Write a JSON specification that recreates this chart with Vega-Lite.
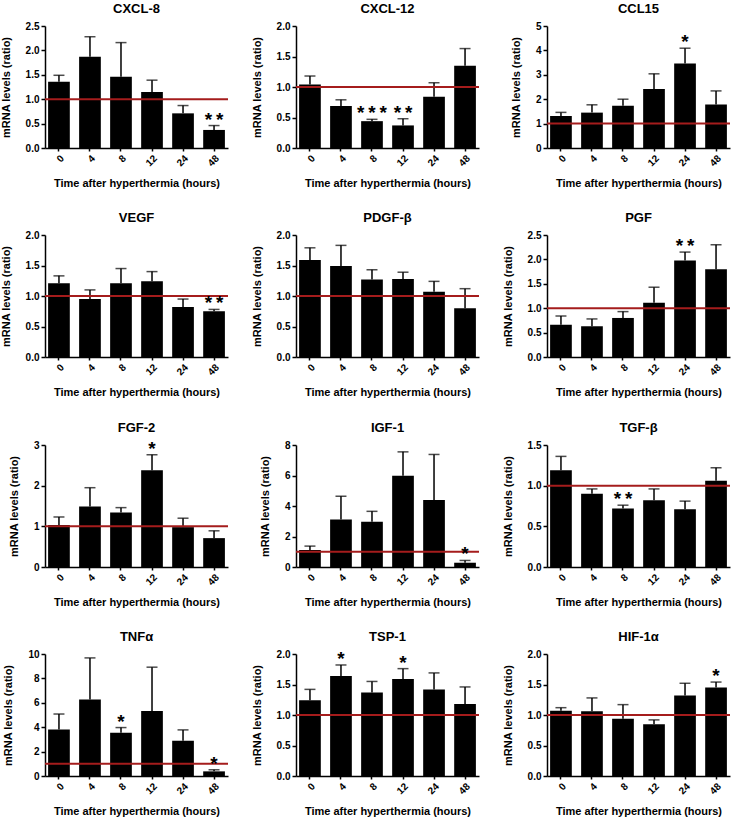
{
  "$schema": "https://vega.github.io/schema/vega-lite/v6.json",
  "padding": {"left": 0, "top": 3, "right": 0, "bottom": 0},
  "background": "white",
  "data": {"values": [
    {"gene": "CXCL-8", "hour": 0, "value": 1.36, "top": 1.49, "star": ""},
    {"gene": "CXCL-8", "hour": 4, "value": 1.87, "top": 2.28, "star": ""},
    {"gene": "CXCL-8", "hour": 8, "value": 1.46, "top": 2.16, "star": ""},
    {"gene": "CXCL-8", "hour": 12, "value": 1.15, "top": 1.39, "star": ""},
    {"gene": "CXCL-8", "hour": 24, "value": 0.71, "top": 0.87, "star": ""},
    {"gene": "CXCL-8", "hour": 48, "value": 0.37, "top": 0.46, "star": "*\u2009*"},
    {"gene": "CXCL-12", "hour": 0, "value": 1.04, "top": 1.18, "star": ""},
    {"gene": "CXCL-12", "hour": 4, "value": 0.69, "top": 0.79, "star": ""},
    {"gene": "CXCL-12", "hour": 8, "value": 0.44, "top": 0.47, "star": "*\u2009*\u2009*"},
    {"gene": "CXCL-12", "hour": 12, "value": 0.37, "top": 0.48, "star": "*\u2009*"},
    {"gene": "CXCL-12", "hour": 24, "value": 0.84, "top": 1.07, "star": ""},
    {"gene": "CXCL-12", "hour": 48, "value": 1.35, "top": 1.63, "star": ""},
    {"gene": "CCL15", "hour": 0, "value": 1.31, "top": 1.46, "star": ""},
    {"gene": "CCL15", "hour": 4, "value": 1.45, "top": 1.77, "star": ""},
    {"gene": "CCL15", "hour": 8, "value": 1.73, "top": 2.0, "star": ""},
    {"gene": "CCL15", "hour": 12, "value": 2.42, "top": 3.04, "star": ""},
    {"gene": "CCL15", "hour": 24, "value": 3.46, "top": 4.09, "star": "*"},
    {"gene": "CCL15", "hour": 48, "value": 1.78, "top": 2.34, "star": ""},
    {"gene": "VEGF", "hour": 0, "value": 1.21, "top": 1.33, "star": ""},
    {"gene": "VEGF", "hour": 4, "value": 0.95, "top": 1.1, "star": ""},
    {"gene": "VEGF", "hour": 8, "value": 1.21, "top": 1.45, "star": ""},
    {"gene": "VEGF", "hour": 12, "value": 1.24, "top": 1.4, "star": ""},
    {"gene": "VEGF", "hour": 24, "value": 0.82, "top": 0.95, "star": ""},
    {"gene": "VEGF", "hour": 48, "value": 0.75, "top": 0.78, "star": "*\u2009*"},
    {"gene": "PDGF-β", "hour": 0, "value": 1.59, "top": 1.79, "star": ""},
    {"gene": "PDGF-β", "hour": 4, "value": 1.49, "top": 1.83, "star": ""},
    {"gene": "PDGF-β", "hour": 8, "value": 1.27, "top": 1.43, "star": ""},
    {"gene": "PDGF-β", "hour": 12, "value": 1.28, "top": 1.39, "star": ""},
    {"gene": "PDGF-β", "hour": 24, "value": 1.07, "top": 1.24, "star": ""},
    {"gene": "PDGF-β", "hour": 48, "value": 0.8, "top": 1.12, "star": ""},
    {"gene": "PGF", "hour": 0, "value": 0.66, "top": 0.84, "star": ""},
    {"gene": "PGF", "hour": 4, "value": 0.63, "top": 0.78, "star": ""},
    {"gene": "PGF", "hour": 8, "value": 0.8, "top": 0.93, "star": ""},
    {"gene": "PGF", "hour": 12, "value": 1.11, "top": 1.43, "star": ""},
    {"gene": "PGF", "hour": 24, "value": 1.98, "top": 2.15, "star": "*\u2009*"},
    {"gene": "PGF", "hour": 48, "value": 1.8, "top": 2.3, "star": ""},
    {"gene": "FGF-2", "hour": 0, "value": 1.03, "top": 1.23, "star": ""},
    {"gene": "FGF-2", "hour": 4, "value": 1.49, "top": 1.95, "star": ""},
    {"gene": "FGF-2", "hour": 8, "value": 1.34, "top": 1.46, "star": ""},
    {"gene": "FGF-2", "hour": 12, "value": 2.38, "top": 2.76, "star": "*"},
    {"gene": "FGF-2", "hour": 24, "value": 0.98, "top": 1.2, "star": ""},
    {"gene": "FGF-2", "hour": 48, "value": 0.71, "top": 0.89, "star": ""},
    {"gene": "IGF-1", "hour": 0, "value": 1.12, "top": 1.37, "star": ""},
    {"gene": "IGF-1", "hour": 4, "value": 3.11, "top": 4.64, "star": ""},
    {"gene": "IGF-1", "hour": 8, "value": 2.96, "top": 3.65, "star": ""},
    {"gene": "IGF-1", "hour": 12, "value": 5.99, "top": 7.55, "star": ""},
    {"gene": "IGF-1", "hour": 24, "value": 4.4, "top": 7.38, "star": ""},
    {"gene": "IGF-1", "hour": 48, "value": 0.28, "top": 0.43, "star": "*"},
    {"gene": "TGF-β", "hour": 0, "value": 1.19, "top": 1.36, "star": ""},
    {"gene": "TGF-β", "hour": 4, "value": 0.9, "top": 0.96, "star": ""},
    {"gene": "TGF-β", "hour": 8, "value": 0.72, "top": 0.76, "star": "*\u2009*"},
    {"gene": "TGF-β", "hour": 12, "value": 0.82, "top": 0.96, "star": ""},
    {"gene": "TGF-β", "hour": 24, "value": 0.71, "top": 0.81, "star": ""},
    {"gene": "TGF-β", "hour": 48, "value": 1.06, "top": 1.22, "star": ""},
    {"gene": "TNFα", "hour": 0, "value": 3.81, "top": 5.08, "star": ""},
    {"gene": "TNFα", "hour": 4, "value": 6.27, "top": 9.68, "star": ""},
    {"gene": "TNFα", "hour": 8, "value": 3.54, "top": 3.97, "star": "*"},
    {"gene": "TNFα", "hour": 12, "value": 5.32, "top": 8.92, "star": ""},
    {"gene": "TNFα", "hour": 24, "value": 2.89, "top": 3.78, "star": ""},
    {"gene": "TNFα", "hour": 48, "value": 0.38, "top": 0.51, "star": "*"},
    {"gene": "TSP-1", "hour": 0, "value": 1.24, "top": 1.42, "star": ""},
    {"gene": "TSP-1", "hour": 4, "value": 1.64, "top": 1.82, "star": "*"},
    {"gene": "TSP-1", "hour": 8, "value": 1.37, "top": 1.55, "star": ""},
    {"gene": "TSP-1", "hour": 12, "value": 1.59, "top": 1.76, "star": "*"},
    {"gene": "TSP-1", "hour": 24, "value": 1.42, "top": 1.69, "star": ""},
    {"gene": "TSP-1", "hour": 48, "value": 1.18, "top": 1.46, "star": ""},
    {"gene": "HIF-1α", "hour": 0, "value": 1.07, "top": 1.12, "star": ""},
    {"gene": "HIF-1α", "hour": 4, "value": 1.06, "top": 1.28, "star": ""},
    {"gene": "HIF-1α", "hour": 8, "value": 0.94, "top": 1.17, "star": ""},
    {"gene": "HIF-1α", "hour": 12, "value": 0.85, "top": 0.92, "star": ""},
    {"gene": "HIF-1α", "hour": 24, "value": 1.32, "top": 1.52, "star": ""},
    {"gene": "HIF-1α", "hour": 48, "value": 1.45, "top": 1.54, "star": "*"}
  ]},
  "columns": 3,
  "spacing": {"row": 23, "column": 22},
  "concat": [
    {"title": "CXCL-8", "width": 183, "height": 122, "transform": [{"filter": "datum.gene == 'CXCL-8'"}],
     "layer": [
      {"mark": {"type": "rule", "color": "black", "strokeWidth": 1.5}, "encoding": {"x": {"field": "hour", "type": "ordinal"}, "y": {"field": "value", "type": "quantitative", "scale": {"domain": [0, 2.5], "nice": false}, "title": "mRNA levels (ratio)"}, "y2": {"field": "top"}}},
      {"mark": {"type": "tick", "color": "black", "thickness": 1.5, "size": 11}, "encoding": {"x": {"field": "hour", "type": "ordinal"}, "y": {"field": "top", "type": "quantitative"}}},
      {"mark": {"type": "bar", "color": "black"}, "encoding": {"x": {"field": "hour", "type": "ordinal", "title": "Time after hyperthermia (hours)", "scale": {"paddingInner": 0.3, "paddingOuter": 0.1}}, "y": {"field": "value", "type": "quantitative"}}},
      {"transform": [{"filter": "datum.hour == 0"}], "mark": {"type": "rule", "color": "#a51c1c", "strokeWidth": 2}, "encoding": {"y": {"datum": 1}}},
      {"transform": [{"filter": "datum.star != ''"}], "mark": {"type": "text", "fontSize": 19, "fontWeight": "bold", "baseline": "alphabetic", "font": "Liberation Sans"}, "encoding": {"x": {"field": "hour", "type": "ordinal"}, "y": {"field": "top", "type": "quantitative"}, "text": {"field": "star"}}}
     ]},
    {"title": "CXCL-12", "width": 183, "height": 122, "transform": [{"filter": "datum.gene == 'CXCL-12'"}],
     "layer": [
      {"mark": {"type": "rule", "color": "black", "strokeWidth": 1.5}, "encoding": {"x": {"field": "hour", "type": "ordinal"}, "y": {"field": "value", "type": "quantitative", "scale": {"domain": [0, 2], "nice": false}, "title": "mRNA levels (ratio)"}, "y2": {"field": "top"}}},
      {"mark": {"type": "tick", "color": "black", "thickness": 1.5, "size": 11}, "encoding": {"x": {"field": "hour", "type": "ordinal"}, "y": {"field": "top", "type": "quantitative"}}},
      {"mark": {"type": "bar", "color": "black"}, "encoding": {"x": {"field": "hour", "type": "ordinal", "title": "Time after hyperthermia (hours)", "scale": {"paddingInner": 0.3, "paddingOuter": 0.1}}, "y": {"field": "value", "type": "quantitative"}}},
      {"transform": [{"filter": "datum.hour == 0"}], "mark": {"type": "rule", "color": "#a51c1c", "strokeWidth": 2}, "encoding": {"y": {"datum": 1}}},
      {"transform": [{"filter": "datum.star != ''"}], "mark": {"type": "text", "fontSize": 19, "fontWeight": "bold", "baseline": "alphabetic", "font": "Liberation Sans"}, "encoding": {"x": {"field": "hour", "type": "ordinal"}, "y": {"field": "top", "type": "quantitative"}, "text": {"field": "star"}}}
     ]},
    {"title": "CCL15", "width": 183, "height": 122, "transform": [{"filter": "datum.gene == 'CCL15'"}],
     "layer": [
      {"mark": {"type": "rule", "color": "black", "strokeWidth": 1.5}, "encoding": {"x": {"field": "hour", "type": "ordinal"}, "y": {"field": "value", "type": "quantitative", "scale": {"domain": [0, 5], "nice": false}, "title": "mRNA levels (ratio)"}, "y2": {"field": "top"}}},
      {"mark": {"type": "tick", "color": "black", "thickness": 1.5, "size": 11}, "encoding": {"x": {"field": "hour", "type": "ordinal"}, "y": {"field": "top", "type": "quantitative"}}},
      {"mark": {"type": "bar", "color": "black"}, "encoding": {"x": {"field": "hour", "type": "ordinal", "title": "Time after hyperthermia (hours)", "scale": {"paddingInner": 0.3, "paddingOuter": 0.1}}, "y": {"field": "value", "type": "quantitative"}}},
      {"transform": [{"filter": "datum.hour == 0"}], "mark": {"type": "rule", "color": "#a51c1c", "strokeWidth": 2}, "encoding": {"y": {"datum": 1}}},
      {"transform": [{"filter": "datum.star != ''"}], "mark": {"type": "text", "fontSize": 19, "fontWeight": "bold", "baseline": "alphabetic", "font": "Liberation Sans"}, "encoding": {"x": {"field": "hour", "type": "ordinal"}, "y": {"field": "top", "type": "quantitative"}, "text": {"field": "star"}}}
     ]},
    {"title": "VEGF", "width": 183, "height": 122, "transform": [{"filter": "datum.gene == 'VEGF'"}],
     "layer": [
      {"mark": {"type": "rule", "color": "black", "strokeWidth": 1.5}, "encoding": {"x": {"field": "hour", "type": "ordinal"}, "y": {"field": "value", "type": "quantitative", "scale": {"domain": [0, 2], "nice": false}, "title": "mRNA levels (ratio)"}, "y2": {"field": "top"}}},
      {"mark": {"type": "tick", "color": "black", "thickness": 1.5, "size": 11}, "encoding": {"x": {"field": "hour", "type": "ordinal"}, "y": {"field": "top", "type": "quantitative"}}},
      {"mark": {"type": "bar", "color": "black"}, "encoding": {"x": {"field": "hour", "type": "ordinal", "title": "Time after hyperthermia (hours)", "scale": {"paddingInner": 0.3, "paddingOuter": 0.1}}, "y": {"field": "value", "type": "quantitative"}}},
      {"transform": [{"filter": "datum.hour == 0"}], "mark": {"type": "rule", "color": "#a51c1c", "strokeWidth": 2}, "encoding": {"y": {"datum": 1}}},
      {"transform": [{"filter": "datum.star != ''"}], "mark": {"type": "text", "fontSize": 19, "fontWeight": "bold", "baseline": "alphabetic", "font": "Liberation Sans"}, "encoding": {"x": {"field": "hour", "type": "ordinal"}, "y": {"field": "top", "type": "quantitative"}, "text": {"field": "star"}}}
     ]},
    {"title": "PDGF-β", "width": 183, "height": 122, "transform": [{"filter": "datum.gene == 'PDGF-β'"}],
     "layer": [
      {"mark": {"type": "rule", "color": "black", "strokeWidth": 1.5}, "encoding": {"x": {"field": "hour", "type": "ordinal"}, "y": {"field": "value", "type": "quantitative", "scale": {"domain": [0, 2], "nice": false}, "title": "mRNA levels (ratio)"}, "y2": {"field": "top"}}},
      {"mark": {"type": "tick", "color": "black", "thickness": 1.5, "size": 11}, "encoding": {"x": {"field": "hour", "type": "ordinal"}, "y": {"field": "top", "type": "quantitative"}}},
      {"mark": {"type": "bar", "color": "black"}, "encoding": {"x": {"field": "hour", "type": "ordinal", "title": "Time after hyperthermia (hours)", "scale": {"paddingInner": 0.3, "paddingOuter": 0.1}}, "y": {"field": "value", "type": "quantitative"}}},
      {"transform": [{"filter": "datum.hour == 0"}], "mark": {"type": "rule", "color": "#a51c1c", "strokeWidth": 2}, "encoding": {"y": {"datum": 1}}},
      {"transform": [{"filter": "datum.star != ''"}], "mark": {"type": "text", "fontSize": 19, "fontWeight": "bold", "baseline": "alphabetic", "font": "Liberation Sans"}, "encoding": {"x": {"field": "hour", "type": "ordinal"}, "y": {"field": "top", "type": "quantitative"}, "text": {"field": "star"}}}
     ]},
    {"title": "PGF", "width": 183, "height": 122, "transform": [{"filter": "datum.gene == 'PGF'"}],
     "layer": [
      {"mark": {"type": "rule", "color": "black", "strokeWidth": 1.5}, "encoding": {"x": {"field": "hour", "type": "ordinal"}, "y": {"field": "value", "type": "quantitative", "scale": {"domain": [0, 2.5], "nice": false}, "title": "mRNA levels (ratio)"}, "y2": {"field": "top"}}},
      {"mark": {"type": "tick", "color": "black", "thickness": 1.5, "size": 11}, "encoding": {"x": {"field": "hour", "type": "ordinal"}, "y": {"field": "top", "type": "quantitative"}}},
      {"mark": {"type": "bar", "color": "black"}, "encoding": {"x": {"field": "hour", "type": "ordinal", "title": "Time after hyperthermia (hours)", "scale": {"paddingInner": 0.3, "paddingOuter": 0.1}}, "y": {"field": "value", "type": "quantitative"}}},
      {"transform": [{"filter": "datum.hour == 0"}], "mark": {"type": "rule", "color": "#a51c1c", "strokeWidth": 2}, "encoding": {"y": {"datum": 1}}},
      {"transform": [{"filter": "datum.star != ''"}], "mark": {"type": "text", "fontSize": 19, "fontWeight": "bold", "baseline": "alphabetic", "font": "Liberation Sans"}, "encoding": {"x": {"field": "hour", "type": "ordinal"}, "y": {"field": "top", "type": "quantitative"}, "text": {"field": "star"}}}
     ]},
    {"title": "FGF-2", "width": 183, "height": 122, "transform": [{"filter": "datum.gene == 'FGF-2'"}],
     "layer": [
      {"mark": {"type": "rule", "color": "black", "strokeWidth": 1.5}, "encoding": {"x": {"field": "hour", "type": "ordinal"}, "y": {"field": "value", "type": "quantitative", "scale": {"domain": [0, 3], "nice": false}, "title": "mRNA levels (ratio)"}, "y2": {"field": "top"}}},
      {"mark": {"type": "tick", "color": "black", "thickness": 1.5, "size": 11}, "encoding": {"x": {"field": "hour", "type": "ordinal"}, "y": {"field": "top", "type": "quantitative"}}},
      {"mark": {"type": "bar", "color": "black"}, "encoding": {"x": {"field": "hour", "type": "ordinal", "title": "Time after hyperthermia (hours)", "scale": {"paddingInner": 0.3, "paddingOuter": 0.1}}, "y": {"field": "value", "type": "quantitative"}}},
      {"transform": [{"filter": "datum.hour == 0"}], "mark": {"type": "rule", "color": "#a51c1c", "strokeWidth": 2}, "encoding": {"y": {"datum": 1}}},
      {"transform": [{"filter": "datum.star != ''"}], "mark": {"type": "text", "fontSize": 19, "fontWeight": "bold", "baseline": "alphabetic", "font": "Liberation Sans"}, "encoding": {"x": {"field": "hour", "type": "ordinal"}, "y": {"field": "top", "type": "quantitative"}, "text": {"field": "star"}}}
     ]},
    {"title": "IGF-1", "width": 183, "height": 122, "transform": [{"filter": "datum.gene == 'IGF-1'"}],
     "layer": [
      {"mark": {"type": "rule", "color": "black", "strokeWidth": 1.5}, "encoding": {"x": {"field": "hour", "type": "ordinal"}, "y": {"field": "value", "type": "quantitative", "scale": {"domain": [0, 8], "nice": false}, "title": "mRNA levels (ratio)"}, "y2": {"field": "top"}}},
      {"mark": {"type": "tick", "color": "black", "thickness": 1.5, "size": 11}, "encoding": {"x": {"field": "hour", "type": "ordinal"}, "y": {"field": "top", "type": "quantitative"}}},
      {"mark": {"type": "bar", "color": "black"}, "encoding": {"x": {"field": "hour", "type": "ordinal", "title": "Time after hyperthermia (hours)", "scale": {"paddingInner": 0.3, "paddingOuter": 0.1}}, "y": {"field": "value", "type": "quantitative"}}},
      {"transform": [{"filter": "datum.hour == 0"}], "mark": {"type": "rule", "color": "#a51c1c", "strokeWidth": 2}, "encoding": {"y": {"datum": 1}}},
      {"transform": [{"filter": "datum.star != ''"}], "mark": {"type": "text", "fontSize": 19, "fontWeight": "bold", "baseline": "alphabetic", "font": "Liberation Sans"}, "encoding": {"x": {"field": "hour", "type": "ordinal"}, "y": {"field": "top", "type": "quantitative"}, "text": {"field": "star"}}}
     ]},
    {"title": "TGF-β", "width": 183, "height": 122, "transform": [{"filter": "datum.gene == 'TGF-β'"}],
     "layer": [
      {"mark": {"type": "rule", "color": "black", "strokeWidth": 1.5}, "encoding": {"x": {"field": "hour", "type": "ordinal"}, "y": {"field": "value", "type": "quantitative", "scale": {"domain": [0, 1.5], "nice": false}, "title": "mRNA levels (ratio)"}, "y2": {"field": "top"}}},
      {"mark": {"type": "tick", "color": "black", "thickness": 1.5, "size": 11}, "encoding": {"x": {"field": "hour", "type": "ordinal"}, "y": {"field": "top", "type": "quantitative"}}},
      {"mark": {"type": "bar", "color": "black"}, "encoding": {"x": {"field": "hour", "type": "ordinal", "title": "Time after hyperthermia (hours)", "scale": {"paddingInner": 0.3, "paddingOuter": 0.1}}, "y": {"field": "value", "type": "quantitative"}}},
      {"transform": [{"filter": "datum.hour == 0"}], "mark": {"type": "rule", "color": "#a51c1c", "strokeWidth": 2}, "encoding": {"y": {"datum": 1}}},
      {"transform": [{"filter": "datum.star != ''"}], "mark": {"type": "text", "fontSize": 19, "fontWeight": "bold", "baseline": "alphabetic", "font": "Liberation Sans"}, "encoding": {"x": {"field": "hour", "type": "ordinal"}, "y": {"field": "top", "type": "quantitative"}, "text": {"field": "star"}}}
     ]},
    {"title": "TNFα", "width": 183, "height": 122, "transform": [{"filter": "datum.gene == 'TNFα'"}],
     "layer": [
      {"mark": {"type": "rule", "color": "black", "strokeWidth": 1.5}, "encoding": {"x": {"field": "hour", "type": "ordinal"}, "y": {"field": "value", "type": "quantitative", "scale": {"domain": [0, 10], "nice": false}, "title": "mRNA levels (ratio)"}, "y2": {"field": "top"}}},
      {"mark": {"type": "tick", "color": "black", "thickness": 1.5, "size": 11}, "encoding": {"x": {"field": "hour", "type": "ordinal"}, "y": {"field": "top", "type": "quantitative"}}},
      {"mark": {"type": "bar", "color": "black"}, "encoding": {"x": {"field": "hour", "type": "ordinal", "title": "Time after hyperthermia (hours)", "scale": {"paddingInner": 0.3, "paddingOuter": 0.1}}, "y": {"field": "value", "type": "quantitative"}}},
      {"transform": [{"filter": "datum.hour == 0"}], "mark": {"type": "rule", "color": "#a51c1c", "strokeWidth": 2}, "encoding": {"y": {"datum": 1}}},
      {"transform": [{"filter": "datum.star != ''"}], "mark": {"type": "text", "fontSize": 19, "fontWeight": "bold", "baseline": "alphabetic", "font": "Liberation Sans"}, "encoding": {"x": {"field": "hour", "type": "ordinal"}, "y": {"field": "top", "type": "quantitative"}, "text": {"field": "star"}}}
     ]},
    {"title": "TSP-1", "width": 183, "height": 122, "transform": [{"filter": "datum.gene == 'TSP-1'"}],
     "layer": [
      {"mark": {"type": "rule", "color": "black", "strokeWidth": 1.5}, "encoding": {"x": {"field": "hour", "type": "ordinal"}, "y": {"field": "value", "type": "quantitative", "scale": {"domain": [0, 2], "nice": false}, "title": "mRNA levels (ratio)"}, "y2": {"field": "top"}}},
      {"mark": {"type": "tick", "color": "black", "thickness": 1.5, "size": 11}, "encoding": {"x": {"field": "hour", "type": "ordinal"}, "y": {"field": "top", "type": "quantitative"}}},
      {"mark": {"type": "bar", "color": "black"}, "encoding": {"x": {"field": "hour", "type": "ordinal", "title": "Time after hyperthermia (hours)", "scale": {"paddingInner": 0.3, "paddingOuter": 0.1}}, "y": {"field": "value", "type": "quantitative"}}},
      {"transform": [{"filter": "datum.hour == 0"}], "mark": {"type": "rule", "color": "#a51c1c", "strokeWidth": 2}, "encoding": {"y": {"datum": 1}}},
      {"transform": [{"filter": "datum.star != ''"}], "mark": {"type": "text", "fontSize": 19, "fontWeight": "bold", "baseline": "alphabetic", "font": "Liberation Sans"}, "encoding": {"x": {"field": "hour", "type": "ordinal"}, "y": {"field": "top", "type": "quantitative"}, "text": {"field": "star"}}}
     ]},
    {"title": "HIF-1α", "width": 183, "height": 122, "transform": [{"filter": "datum.gene == 'HIF-1α'"}],
     "layer": [
      {"mark": {"type": "rule", "color": "black", "strokeWidth": 1.5}, "encoding": {"x": {"field": "hour", "type": "ordinal"}, "y": {"field": "value", "type": "quantitative", "scale": {"domain": [0, 2], "nice": false}, "title": "mRNA levels (ratio)"}, "y2": {"field": "top"}}},
      {"mark": {"type": "tick", "color": "black", "thickness": 1.5, "size": 11}, "encoding": {"x": {"field": "hour", "type": "ordinal"}, "y": {"field": "top", "type": "quantitative"}}},
      {"mark": {"type": "bar", "color": "black"}, "encoding": {"x": {"field": "hour", "type": "ordinal", "title": "Time after hyperthermia (hours)", "scale": {"paddingInner": 0.3, "paddingOuter": 0.1}}, "y": {"field": "value", "type": "quantitative"}}},
      {"transform": [{"filter": "datum.hour == 0"}], "mark": {"type": "rule", "color": "#a51c1c", "strokeWidth": 2}, "encoding": {"y": {"datum": 1}}},
      {"transform": [{"filter": "datum.star != ''"}], "mark": {"type": "text", "fontSize": 19, "fontWeight": "bold", "baseline": "alphabetic", "font": "Liberation Sans"}, "encoding": {"x": {"field": "hour", "type": "ordinal"}, "y": {"field": "top", "type": "quantitative"}, "text": {"field": "star"}}}
     ]}
  ],
  "config": {
    "font": "Liberation Sans",
    "view": {"stroke": null},
    "title": {"fontSize": 13, "fontWeight": "bold", "color": "black", "font": "Liberation Sans", "offset": 5},
    "axis": {"grid": false, "labelFont": "Liberation Sans", "labelFontWeight": "bold", "labelFontSize": 10, "labelColor": "black", "titleFont": "Liberation Sans", "titleFontWeight": "bold", "titleFontSize": 11, "titleColor": "black", "domainColor": "black", "domainWidth": 1.5, "tickColor": "black", "tickWidth": 1.5, "tickSize": 4, "labelPadding": 2},
    "axisY": {"tickCount": 4, "titlePadding": 14},
    "axisX": {"labelAngle": -45, "titlePadding": 10, "tickSize": 3}
  }
}
